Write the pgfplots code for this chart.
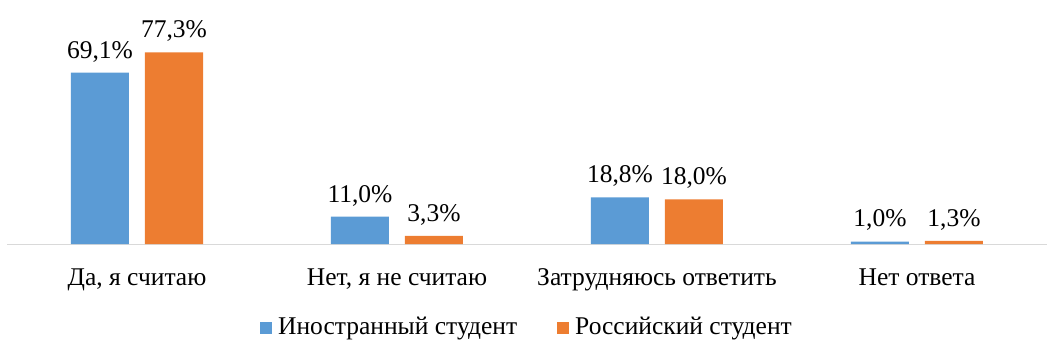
\documentclass[border=0pt]{standalone}
\usepackage{pgfplots}
\pgfplotsset{compat=1.18}
\usepackage{fontspec}
\setmainfont{Liberation Serif}
\definecolor{cblue}{HTML}{5B9BD5}
\definecolor{corange}{HTML}{ED7D31}
\definecolor{cgrid}{HTML}{D9D9D9}
\begin{document}
\fontsize{25.5bp}{30bp}\selectfont
\begin{tikzpicture}
\useasboundingbox (-7bp,-107bp) rectangle (1048bp,244bp);
\begin{axis}[
  scale only axis,
  width=1040bp, height=198.4bp,
  xmin=-0.5, xmax=3.5, ymin=0, ymax=80,
  ybar=16bp, bar width=58bp,
  axis x line=bottom, axis y line=none,
  axis line style={draw=cgrid, line width=1bp, -},
  xtick={0,1,2,3},
  xticklabels={{Да, я считаю},{Нет, я не считаю},{Затрудняюсь ответить},{Нет ответа}},
  major tick length=0pt,
  xticklabel style={yshift=-16bp, font=\fontsize{25.5bp}{30bp}\selectfont},
  ytick=\empty,
  clip=false,
  /pgf/number format/assume math mode=true,
  nodes near coords={\pgfmathprintnumber[fixed,fixed zerofill,precision=1,use comma,assume math mode=true]{\pgfplotspointmeta}\%},
  every node near coord/.append style={font=\fontsize{25.5bp}{30bp}\selectfont, black, yshift=2bp},
  legend style={at={(0.5,-0.4234)}, anchor=center, draw=none, legend columns=2,
    font=\fontsize{25.5bp}{30bp}\selectfont,
    /tikz/every odd column/.append style={column sep=4bp},
    /tikz/every even column/.append style={column sep=38bp}},
  legend image code/.code={\fill[#1] (0bp,-6bp) rectangle (12bp,6bp);},
]
\addplot[draw=none, fill=cblue] coordinates {(0,69.1) (1,11.0) (2,18.8) (3,1.0)};
\addplot[draw=none, fill=corange] coordinates {(0,77.3) (1,3.3) (2,18.0) (3,1.3)};
\legend{Иностранный студент, Российский студент}
\end{axis}
\end{tikzpicture}
\end{document}
